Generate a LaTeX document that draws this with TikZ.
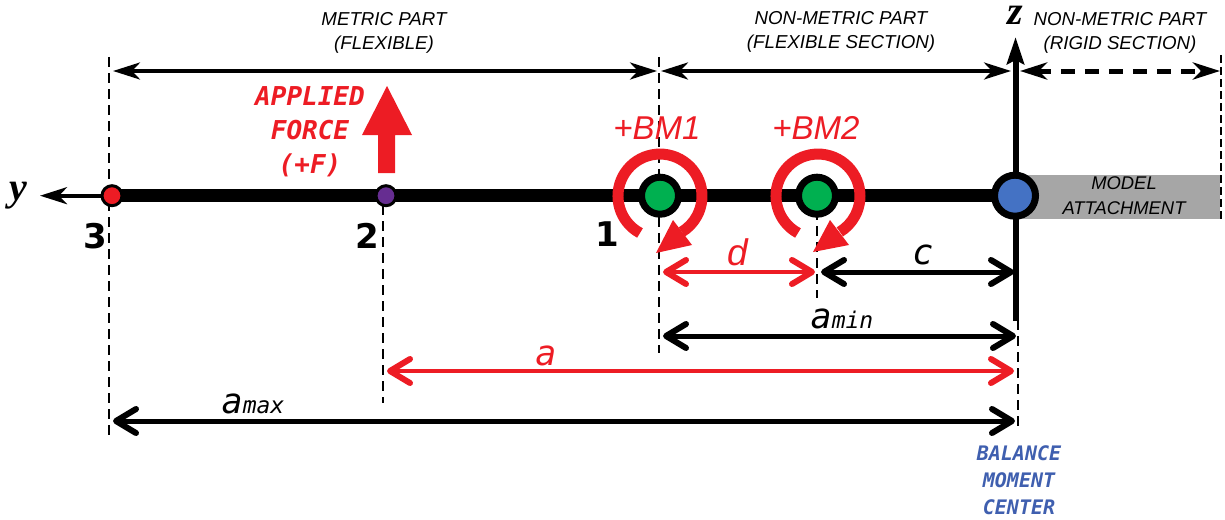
\documentclass[tikz,border=0pt]{standalone}
\usepackage{fontspec}
\setmainfont{Liberation Sans}
\setmonofont{DejaVu Sans Mono}
\newfontfamily\serifi{Liberation Serif}
\newfontfamily\dvs{DejaVu Sans}
\usetikzlibrary{arrows.meta}
\definecolor{rd}{HTML}{ED1C24}
\definecolor{gn}{HTML}{00B050}
\definecolor{pp}{HTML}{662D91}
\definecolor{bl}{HTML}{4472C4}
\definecolor{bt}{HTML}{3F5FAF}
\definecolor{gy}{HTML}{A6A6A6}
\newcommand{\fs}[2]{\fontsize{#1}{#2}\selectfont}
\tikzset{
  guide/.style={draw=black,line width=2.4pt,dash pattern=on 10pt off 6pt},
  spanarrow/.style={draw=black,line width=4pt,{Stealth[length=27pt,width=17pt,inset=8pt]}-{Stealth[length=27pt,width=17pt,inset=8pt]}},
  dimblack/.style={draw=black,line width=5pt,{Straight Barb[length=20pt,width=24pt,round,line width=6pt]}-{Straight Barb[length=20pt,width=24pt,round,line width=6pt]}},
  dimred/.style={dimblack,draw=rd,line width=4.5pt},
  ringarc/.style={draw=rd,line width=11pt},
  heading/.style={align=center,inner sep=0pt,font=\fs{18.7}{24}\itshape},
  dimlabel/.style={inner sep=0pt,font=\fs{35}{38}\ttfamily\itshape},
  numlabel/.style={inner sep=0pt,font=\fs{34}{36}\dvs\bfseries},
  momlabel/.style={inner sep=0pt,text=rd,font=\fs{33}{36}\itshape},
  axislabel/.style={inner sep=0pt,font=\fs{40}{42}\serifi\bfseries\itshape},
  smallpt/.style={circle,draw=black,line width=3pt,minimum size=20pt,inner sep=0pt},
  bigpt/.style={circle,draw=black,line width=7pt,minimum size=37pt,inner sep=0pt,fill=gn}
}
\begin{document}
\begin{tikzpicture}[x=1pt,y=-1pt]
\useasboundingbox (0,0) rectangle (1225,519);
% anchors
\coordinate (g3t) at (109,57); \coordinate (g3b) at (109,437);
\coordinate (g2t) at (383,205); \coordinate (g2b) at (383,403);
\coordinate (g1t) at (659,57); \coordinate (g1b) at (659,353);
\coordinate (gbt) at (817,210); \coordinate (gbb) at (817,298);
\coordinate (gct) at (1018,320); \coordinate (gcb) at (1018,432);
\coordinate (grt) at (1221,55); \coordinate (grb) at (1221,219);
\coordinate (yend) at (40,195.7);
\coordinate (ztop) at (1015.5,37); \coordinate (zbot) at (1015.5,321);
% grey block
\fill[gy] (1015,175) rectangle (1220,219);
\node[inner sep=0pt,align=center,font=\fs{18.4}{25}\itshape] (attach) at (1124,196) {MODEL\\ATTACHMENT};
% guides
\draw[guide] (g3t) -- (g3b);
\draw[guide] (g2t) -- (g2b);
\draw[guide] (g1t) -- (g1b);
\draw[guide] (gbt) -- (gbb);
\draw[guide] (gct) -- (gcb);
\draw[guide,line width=2pt,dash pattern=on 8pt off 4pt] (grt) -- (grb);
% axes
\draw[line width=6pt,-{Stealth[length=27pt,width=17pt,inset=4pt]}] (zbot) -- (ztop);
% nodes
\coordinate (c3) at (112,195.7);
\coordinate (chub) at (1015,195.7);
\draw[line width=13pt] (c3) -- (chub);
\draw[line width=4pt,-{Stealth[length=27pt,width=17pt,inset=8pt]}] (c3) -- (yend);
\node[smallpt,fill=rd] (n3) at (c3) {};
\node[smallpt,fill=pp] (n2) at (386,195.7) {};
\node[bigpt] (n1) at (660,195.7) {};
\node[bigpt] (nb) at (817,195.7) {};
\node[circle,draw=black,line width=7pt,minimum size=41pt,inner sep=0pt,fill=bl] (hub) at (chub) {};
% moment rings
\draw[ringarc] (640,233) arc[start angle=241.6,end angle=-58.6,radius=42pt];
\fill[rd] (656,253) -- (673,220) -- (692,245) -- cycle;
\draw[ringarc] (798,233) arc[start angle=241.6,end angle=-58.6,radius=42pt];
\fill[rd] (813,252) -- (830,220) -- (849,245) -- cycle;
% force arrow
\fill[rd] (387,86) -- (412,135) -- (395,135) -- (395,173) -- (378,173) -- (378,135) -- (362,135) -- cycle;
% span arrows
\coordinate (s1) at (113,71); \coordinate (s2) at (657,71); \coordinate (s3) at (661,71);
\coordinate (s4) at (1011,71); \coordinate (s5) at (1020,71); \coordinate (s6) at (1220,71);
\draw[spanarrow] (s1) -- (s2);
\draw[spanarrow] (s3) -- (s4);
\draw[spanarrow,dash pattern=on 14pt off 10pt,line width=5pt] (s5) -- (s6);
% dimension arrows
\coordinate (d1) at (663,272); \coordinate (d2) at (815,272);
\coordinate (c1) at (821,272); \coordinate (c2) at (1014,272);
\coordinate (m1) at (663,336); \coordinate (m2) at (1016,336);
\coordinate (a1) at (387,371); \coordinate (a2) at (1014,371);
\coordinate (x1) at (113,421); \coordinate (x2) at (1015,421);
\draw[dimred] (d1) -- (d2);
\draw[dimblack] (c1) -- (c2);
\draw[dimblack] (m1) -- (m2);
\draw[dimred] (a1) -- (a2);
\draw[dimblack] (x1) -- (x2);
% headings
\node[heading] (h1) at (384,33) {METRIC PART\\(FLEXIBLE)};
\node[heading] (h2) at (841,32) {NON-METRIC PART\\(FLEXIBLE SECTION)};
\node[heading] (h3) at (1120,33) {NON-METRIC PART\\(RIGID SECTION)};
% labels
\node[align=center,inner sep=0pt,text=rd,font=\fs{26}{34}\ttfamily\bfseries\itshape] (af) at (310,132) {APPLIED\\FORCE\\(+F)};
\node[align=center,inner sep=0pt,text=bt,font=\fs{20}{27}\ttfamily\bfseries\itshape] (bmc) at (1019,480) {BALANCE\\MOMENT\\CENTER};
\node[momlabel] (bm1) at (657,128) {+BM1};
\node[momlabel] (bm2) at (816,128) {+BM2};
\node[numlabel] (l3) at (95,236) {3};
\node[numlabel] (l2) at (367,236) {2};
\node[numlabel] (l1) at (607,234) {1};
\node[axislabel] (ly) at (18,196) {y};
\node[axislabel] (lz) at (1015,15) {z};
\node[inner sep=0pt,text=rd,font=\fs{37}{40}\itshape] (ld) at (738,252) {d};
\node[dimlabel,anchor=base] (lc) at (923,264) {c};
\node[dimlabel,anchor=base] (lmin) at (842,328) {a{\fs{23}{24}min}};
\node[dimlabel,anchor=base,text=rd] (la) at (546,365) {a};
\node[dimlabel,anchor=base] (lmax) at (253,413) {a{\fs{23}{24}max}};
\end{tikzpicture}
\end{document}
